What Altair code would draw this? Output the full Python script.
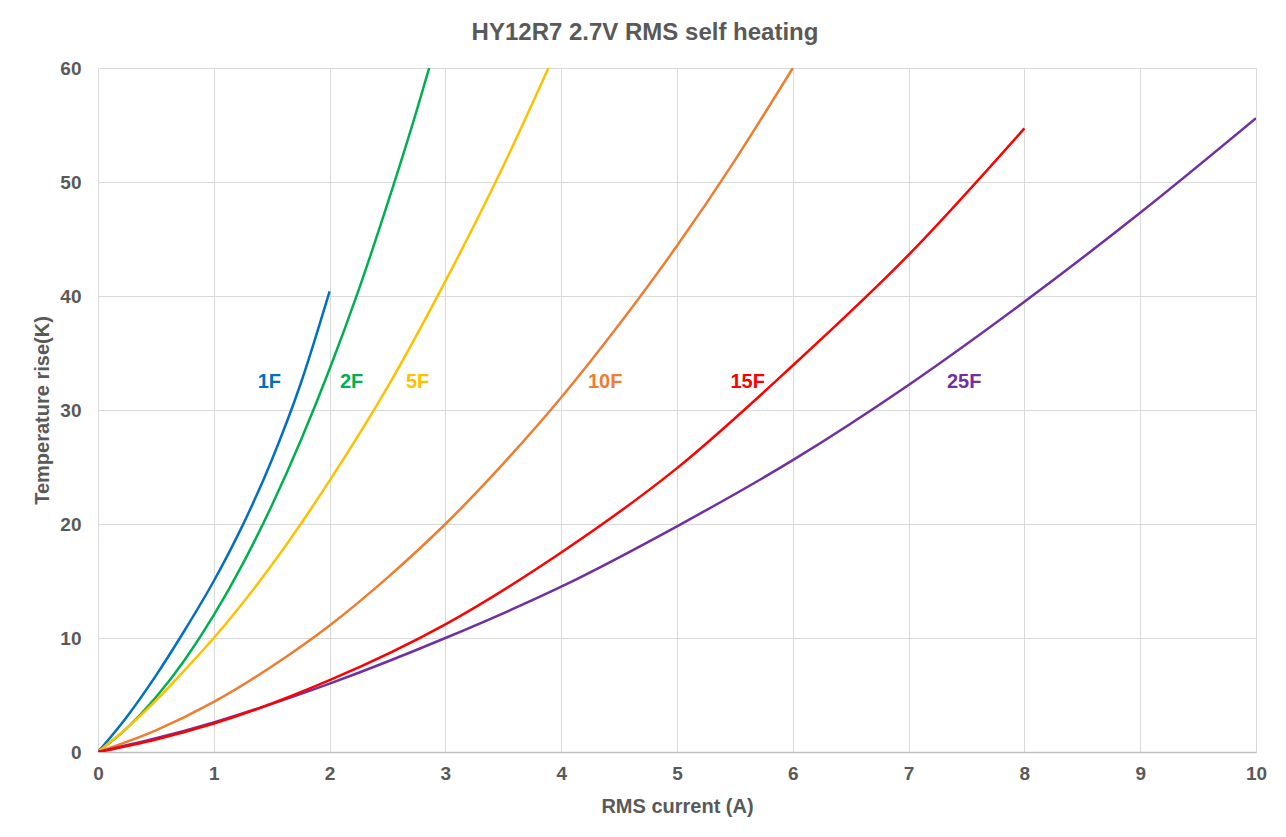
import altair as alt
import pandas as pd

# ---- data ----
series_names = ["1F", "2F", "5F", "10F", "15F", "25F"]
series_colors = ["#0070C0", "#00B050", "#FFC000", "#ED7D31", "#FF0000", "#7030A0"]

x_1F = [0, 0.25, 0.5, 0.75, 1, 1.25, 1.5, 1.75, 2]
y_1F = [0, 3.1, 6.7, 10.7, 15.0, 19.9, 25.6, 32.3, 40.4]

x_2F = [0, 0.25, 0.5, 0.75, 1, 1.25, 1.5, 1.75, 2, 2.25, 2.5, 2.75, 2.86]
y_2F = [0, 2.1, 4.8, 8.1, 12.0, 16.5, 21.6, 27.3, 33.6, 40.5, 48.1, 56.2, 60.0]

x_5F = [0, 0.25, 0.5, 0.75, 1, 1.5, 2, 2.5, 3, 3.5, 3.89]
y_5F = [0, 2.1, 4.5, 7.2, 10.0, 16.4, 23.8, 32.0, 41.3, 51.4, 60.0]

x_10F = [0, 0.5, 1, 1.5, 2, 2.5, 3, 3.5, 4, 4.5, 5, 5.5, 6.0]
y_10F = [0, 1.9, 4.4, 7.5, 11.1, 15.3, 20.0, 25.3, 31.1, 37.5, 44.4, 51.9, 60.0]

x_15F = [0, 0.5, 1, 2, 3, 4, 5, 6, 7, 8]
y_15F = [0, 1.1, 2.5, 6.3, 11.2, 17.5, 24.9, 33.9, 43.6, 54.7]

x_25F = [0, 0.5, 1, 2, 3, 4, 5, 6, 7, 8, 9, 10]
y_25F = [0, 1.2, 2.6, 6.0, 10.0, 14.5, 19.8, 25.6, 32.2, 39.5, 47.3, 55.6]

label_x = [1.48, 2.19, 2.76, 4.38, 5.61, 7.48]
label_y = [32.5, 32.5, 32.5, 32.5, 32.5, 32.5]

x_ticks = [0, 1, 2, 3, 4, 5, 6, 7, 8, 9, 10]
y_ticks = [0, 10, 20, 30, 40, 50, 60]

# ---- build tables ----
xs_all = [x_1F, x_2F, x_5F, x_10F, x_15F, x_25F]
ys_all = [y_1F, y_2F, y_5F, y_10F, y_15F, y_25F]
tables = {}
for name, xs, ys in zip(series_names, xs_all, ys_all):
    tables[name] = pd.DataFrame({"current": xs, "rise": ys, "series": name})

labels_df = pd.DataFrame({"current": label_x, "rise": label_y, "series": series_names})

FONT = "Liberation Sans"
GREY = "#595959"

x_enc = alt.X(
    "current:Q",
    scale=alt.Scale(domain=[0, 10], nice=False),
    axis=alt.Axis(
        values=x_ticks, title="RMS current (A)", format="d",
        labelFontSize=19, titleFontSize=20, labelPadding=12, titlePadding=13,
        labelFlush=False,
        domain=True, domainColor="#BFBFBF", domainWidth=1.5, ticks=False,
    ),
)
y_enc = alt.Y(
    "rise:Q",
    scale=alt.Scale(domain=[0, 60], nice=False),
    axis=alt.Axis(
        values=y_ticks, title="Temperature rise(K)", format="d",
        labelFontSize=19, titleFontSize=20, labelPadding=17, titlePadding=7,
        labelFlush=False,
        domain=False, ticks=False,
    ),
)

color_scale = alt.Scale(domain=series_names, range=series_colors)

# draw order: red (15F) last so it sits on top of purple near the origin
draw_order = ["1F", "2F", "5F", "10F", "25F", "15F"]
layers = []
for name in draw_order:
    layers.append(
        alt.Chart(tables[name])
        .mark_line(interpolate="monotone", strokeWidth=2.5, clip=True)
        .encode(x=x_enc, y=y_enc,
                color=alt.Color("series:N", scale=color_scale, legend=None))
    )

text_layer = (
    alt.Chart(labels_df)
    .mark_text(font=FONT, fontSize=20, fontWeight="bold", align="center", baseline="middle")
    .encode(x=x_enc, y=y_enc,
            text="series:N",
            color=alt.Color("series:N", scale=color_scale, legend=None))
)

chart = (
    alt.layer(*layers, text_layer)
    .properties(
        width=1158,
        height=684,
        autosize=alt.AutoSizeParams(type="none"),
        padding={"left": 90, "top": 60, "right": 22, "bottom": 77},
        background="white",
        title=alt.TitleParams(
            "HY12R7 2.7V RMS self heating",
            font=FONT, fontSize=24, fontWeight="bold", color=GREY,
            anchor="middle", offset=14, dx=-32,
        ),
    )
    .configure_axis(
        grid=True, gridColor="#D9D9D9", gridWidth=1,
        labelFont=FONT, labelFontWeight="bold", labelColor=GREY,
        titleFont=FONT, titleFontWeight="bold", titleColor=GREY,
    )
    .configure_view(stroke=None)
)

chart.save("out.html", embed_options={"renderer": "svg", "actions": False})
